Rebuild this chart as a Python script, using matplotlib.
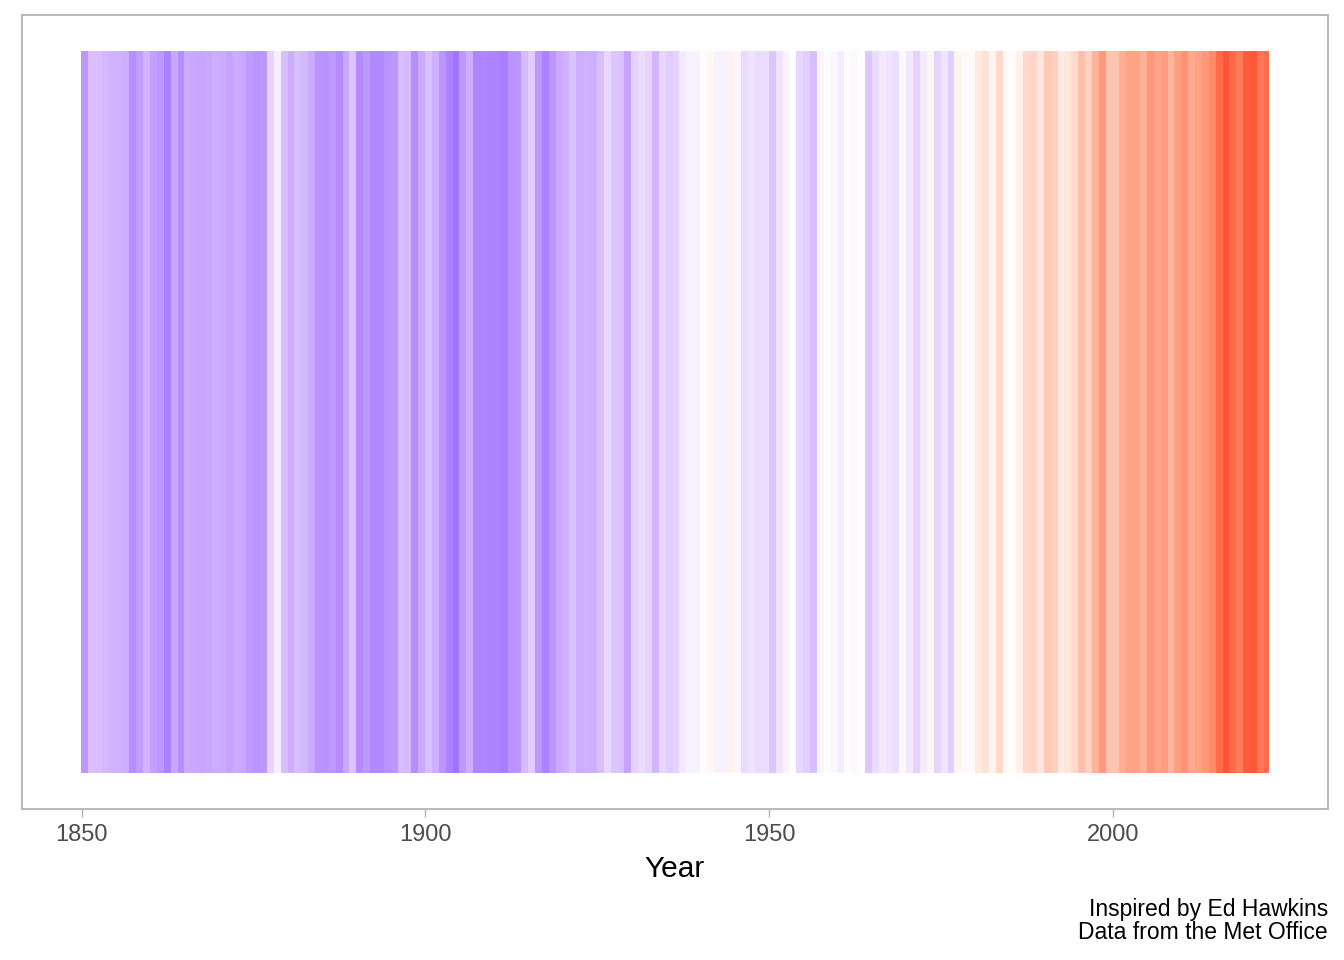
import numpy as np
import matplotlib
matplotlib.use("Agg")
import matplotlib.pyplot as plt
from matplotlib.colors import ListedColormap, Normalize

# ---- data: annual global temperature anomalies (°C, rel. 1961-1990), read/estimated ----
years = list(range(1850, 2023))
anomaly = [
    -0.42, -0.23, -0.23, -0.27, -0.29, -0.30, -0.32, -0.47, -0.39, -0.28,  # 1850s
    -0.39, -0.43, -0.54, -0.34, -0.47, -0.33, -0.34, -0.36, -0.35, -0.32,  # 1860s
    -0.33, -0.37, -0.32, -0.34, -0.41, -0.44, -0.42, -0.13, 0.00, -0.24,   # 1870s
    -0.32, -0.24, -0.26, -0.33, -0.44, -0.45, -0.42, -0.48, -0.34, -0.21,  # 1880s
    -0.48, -0.42, -0.50, -0.50, -0.45, -0.42, -0.24, -0.26, -0.47, -0.33,  # 1890s
    -0.23, -0.30, -0.44, -0.53, -0.60, -0.42, -0.32, -0.51, -0.51, -0.53,  # 1900s
    -0.53, -0.55, -0.45, -0.44, -0.25, -0.17, -0.43, -0.53, -0.43, -0.33,  # 1910s
    -0.30, -0.22, -0.32, -0.30, -0.31, -0.23, -0.11, -0.20, -0.22, -0.36,  # 1920s
    -0.14, -0.09, -0.13, -0.28, -0.12, -0.17, -0.14, -0.03, 0.01, 0.01,    # 1930s
    0.09, 0.12, 0.01, 0.01, 0.15, 0.03, -0.09, -0.06, -0.09, -0.09,        # 1940s
    -0.20, -0.06, 0.02, 0.08, -0.12, -0.16, -0.24, 0.03, 0.06, 0.03,       # 1950s
    -0.02, 0.06, 0.04, 0.08, -0.20, -0.10, -0.03, -0.06, -0.08, 0.04,      # 1960s
    -0.03, -0.14, -0.02, 0.13, -0.13, -0.06, -0.16, 0.13, 0.05, 0.11,      # 1970s
    0.21, 0.25, 0.14, 0.30, 0.11, 0.09, 0.16, 0.30, 0.32, 0.22,            # 1980s
    0.39, 0.36, 0.19, 0.23, 0.29, 0.44, 0.33, 0.52, 0.66, 0.42,            # 1990s
    0.42, 0.55, 0.61, 0.61, 0.54, 0.68, 0.61, 0.64, 0.51, 0.63,            # 2000s
    0.70, 0.58, 0.62, 0.67, 0.74, 0.90, 1.00, 0.90, 0.82, 0.97,            # 2010s
    0.99, 0.84, 0.89,                                                      # 2020s
]
tick_years = [1850, 1900, 1950, 2000]
colour_min = -1.05         # coldest (monthly) anomaly: full blue
colour_max = 1.20          # warmest (monthly) anomaly: full red
last_year_fraction = 0.7   # data runs part way into the final year
caption = "Inspired by Ed Hawkins\nData from the Met Office"

# ---- colour scale: blue - white - red interpolated in CIELAB ----
def srgb_to_lab(rgb):
    rgb = np.asarray(rgb, float)
    lin = np.where(rgb <= 0.04045, rgb / 12.92, ((rgb + 0.055) / 1.055) ** 2.4)
    M = np.array([[0.4124564, 0.3575761, 0.1804375],
                  [0.2126729, 0.7151522, 0.0721750],
                  [0.0193339, 0.1191920, 0.9503041]])
    xyz = lin @ M.T
    wp = np.array([0.95047, 1.0, 1.08883])
    t = xyz / wp
    f = np.where(t > (6 / 29) ** 3, np.cbrt(t), t / (3 * (6 / 29) ** 2) + 4 / 29)
    L = 116 * f[..., 1] - 16
    a = 500 * (f[..., 0] - f[..., 1])
    b = 200 * (f[..., 1] - f[..., 2])
    return np.stack([L, a, b], -1)

def lab_to_srgb(lab):
    lab = np.asarray(lab, float)
    fy = (lab[..., 0] + 16) / 116
    fx = fy + lab[..., 1] / 500
    fz = fy - lab[..., 2] / 200
    f = np.stack([fx, fy, fz], -1)
    d = 6 / 29
    t = np.where(f > d, f ** 3, 3 * d * d * (f - 4 / 29))
    xyz = t * np.array([0.95047, 1.0, 1.08883])
    Minv = np.array([[3.2404542, -1.5371385, -0.4985314],
                     [-0.9692660, 1.8760108, 0.0415560],
                     [0.0556434, -0.2040259, 1.0572252]])
    lin = xyz @ Minv.T
    lin = np.clip(lin, 0, 1)
    rgb = np.where(lin <= 0.0031308, 12.92 * lin, 1.055 * lin ** (1 / 2.4) - 0.055)
    return np.clip(rgb, 0, 1)

lab_low = srgb_to_lab([0, 0, 1])
lab_mid = srgb_to_lab([1, 1, 1])
lab_high = srgb_to_lab([1, 0, 0])
tt = np.linspace(0, 1, 512)
labs = []
for t in tt:
    if t < 0.5:
        u = t / 0.5
        labs.append(lab_low + (lab_mid - lab_low) * u)
    else:
        u = (t - 0.5) / 0.5
        labs.append(lab_mid + (lab_high - lab_mid) * u)
cmap = ListedColormap(lab_to_srgb(np.array(labs)))
norm = Normalize(vmin=colour_min, vmax=colour_max)

# ---- figure ----
fig = plt.figure(figsize=(13.44, 9.6), dpi=100)
plt.rcParams['font.family'] = ['Liberation Sans', 'DejaVu Sans']
ax = fig.add_axes([22 / 1344, 1 - 809 / 960, (1328 - 22) / 1344, (809 - 15) / 960])

yr = np.array(years, float)
half_month = 1 / 24
edges = np.append(yr, yr[-1] + last_year_fraction) - half_month
vals = np.array(anomaly)[np.newaxis, :]
ax.pcolormesh(edges, [0, 1], vals, cmap=cmap, norm=norm, shading='flat',
              edgecolor='none', antialiased=False)

x0, x1 = edges[0], edges[-1]
pad = 0.05 * (x1 - x0)
ax.set_xlim(x0 - pad, x1 + pad)
ax.set_ylim(-0.05, 1.05)

ax.set_yticks([])
ax.set_xticks(tick_years)
ax.set_xticklabels([str(y) for y in tick_years])
ax.tick_params(axis='x', length=6, width=1.0, color='#B3B3B3', labelsize=17,
               labelcolor='#4D4D4D', pad=5)
for s in ax.spines.values():
    s.set_color('#B3B3B3')
    s.set_linewidth(1.3)
ax.set_xlabel("Year", fontsize=21.5, color='black', labelpad=6)

fig.text(1328 / 1344, 1 - 898 / 960, caption, ha='right', va='top',
         fontsize=16.5, color='black', linespacing=1.02)

fig.savefig("out.png", dpi=100, facecolor='white')
